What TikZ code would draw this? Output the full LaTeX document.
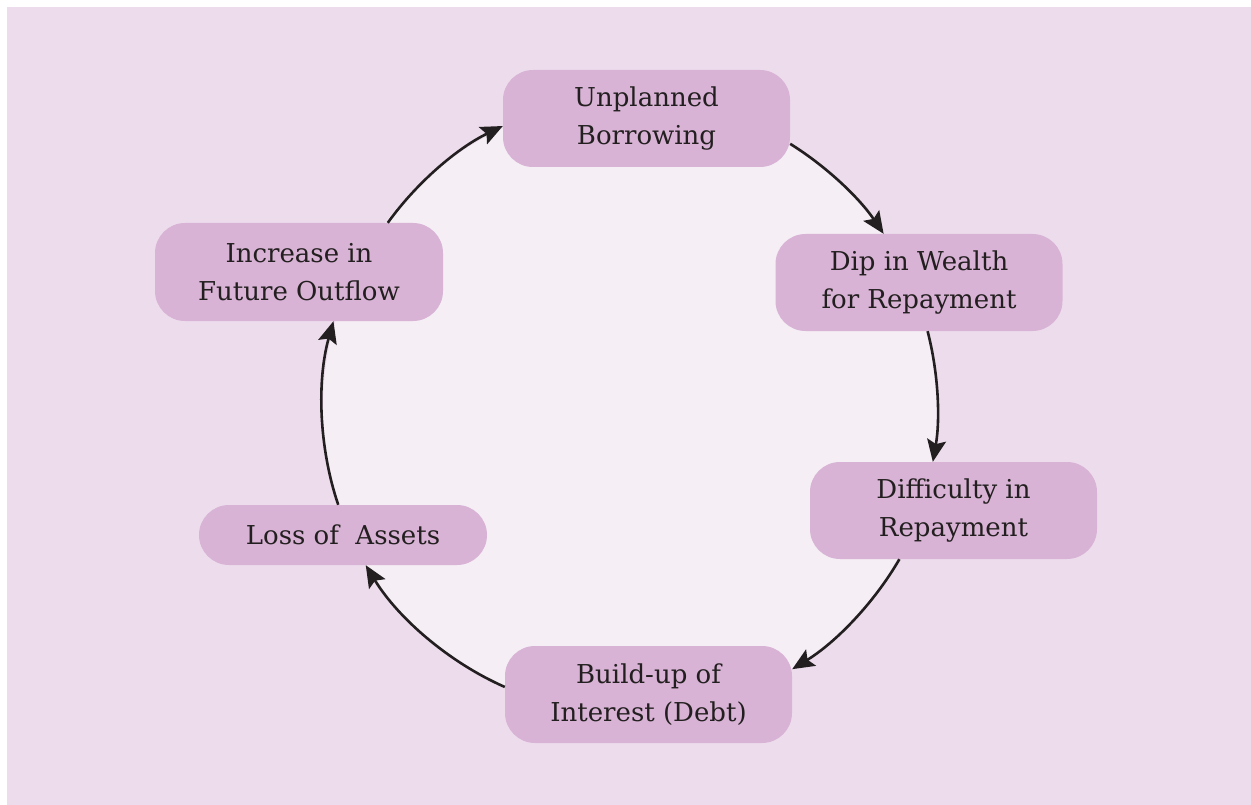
\documentclass[tikz,border=0pt]{standalone}
\usepackage{fontspec}
\setmainfont{DejaVu Serif}
\usetikzlibrary{arrows.meta}
\definecolor{bgcol}{HTML}{EDDDEC}
\definecolor{innercol}{HTML}{F5EEF5}
\definecolor{boxcol}{HTML}{D8B3D5}
\definecolor{inkcol}{HTML}{231F20}
\tikzset{
  stagebox/.style={fill=boxcol, rounded corners=30pt, minimum width=287pt, minimum height=97pt,
    inner sep=0pt, align=center, text=inkcol, font=\fontsize{26}{38}\selectfont},
  flow/.style={draw=inkcol, line width=2.6pt, looseness=0.85,
    -{Stealth[length=22pt,width=19pt,inset=4pt]}},
}
\begin{document}
\begin{tikzpicture}[x=1pt,y=1pt]
\useasboundingbox (0,0) rectangle (1251,-805);
\fill[bgcol] (7,-7) rectangle (1251,-805);
\fill[innercol] (630,-408) circle (307);
\node[stagebox] (n1) at (646.5,-118.5) {Unplanned\\Borrowing};
\node[stagebox] (n2) at (919,-282.5) {Dip in Wealth\\for Repayment};
\node[stagebox] (n3) at (953.5,-510.5) {Difficulty in\\Repayment};
\node[stagebox] (n4) at (648.5,-694.5) {Build-up of\\Interest (Debt)};
\node[stagebox, minimum width=288pt, minimum height=60pt] (n5) at (343,-535) {Loss of\ \ Assets};
\node[stagebox, minimum width=288pt, minimum height=98pt] (n6) at (299,-272) {Increase in\\Future Outflow};
\draw[flow] (n6.29.7) to[bend left=14.25] (n1.183.4);
\draw[flow] (n1.-10.5) to[bend left=12] (n2.126);
\draw[flow] (n2.-80.8) to[bend left=12.25] (n3.113.9);
\draw[flow] (n3.-138.8) to[bend left=14.2] (n4.10.5);
\draw[flow] (n4.177) to[bend left=17.5] (n5.-53.7);
\draw[flow] (n5.99.5) to[bend left=17.25] (n6.-55.2);
\end{tikzpicture}
\end{document}
